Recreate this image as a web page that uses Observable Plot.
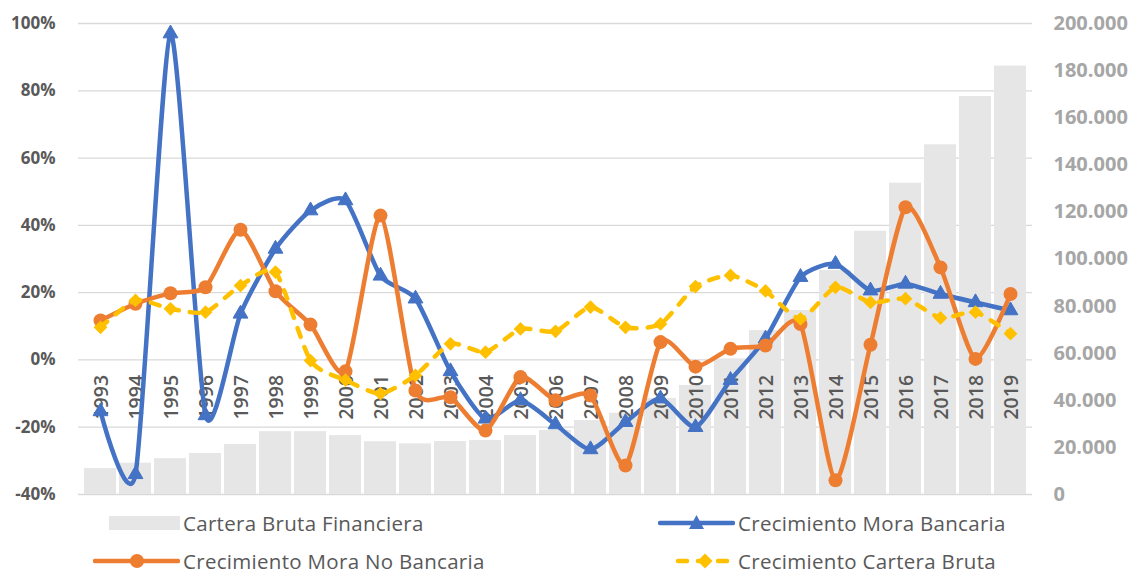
<!DOCTYPE html>
<html>
<head>
<meta charset="utf-8">
<script src="https://cdn.jsdelivr.net/npm/d3@7"></script>
<script src="https://cdn.jsdelivr.net/npm/@observablehq/plot@0.6"></script>
<style>
  html, body { margin: 0; padding: 0; background: #fff; }
  #wrap { position: relative; width: 1135px; height: 574px; font-family: "Open Sans", sans-serif; }
  #chart { position: absolute; left: 0; top: 0; }
  .leg { position: absolute; display: flex; align-items: center; color: #595959; font-size: 20.5px; line-height: 1; white-space: nowrap; letter-spacing: 0.3px; }
  .leg svg { display: block; }
</style>
</head>
<body>
<div id="wrap"><div id="chart"></div></div>
<script>
const years = [1993,1994,1995,1996,1997,1998,1999,2000,2001,2002,2003,2004,2005,2006,2007,2008,2009,2010,2011,2012,2013,2014,2015,2016,2017,2018,2019];
const carteraBrutaFinanciera = [11000,13300,15200,17400,21200,26700,26700,25000,22400,21500,22500,22900,25000,27200,31400,34500,40800,46300,57600,69600,78100,95100,111800,132200,148500,169000,181900];
const crecimientoMoraBancaria = [-15.3,-34,97,-16.5,13.7,33,44.4,47.4,25,18.2,-3.4,-17.5,-12,-19.2,-26.6,-18.5,-11.5,-20,-6,6.3,24.6,28.5,20.6,22.6,19.6,17.1,14.7];
const crecimientoMoraNoBancaria = [11.7,16.7,19.8,21.6,38.7,20.4,10.5,-3.4,42.9,-9.1,-11.1,-21,-5.1,-12,-10.6,-31.4,5.3,-2,3.3,4.3,10.7,-35.8,4.5,45.4,27.5,0.3,19.6];
const crecimientoCarteraBruta = [9.7,17.7,15.2,14.2,22.1,26.1,-0.2,-6,-10,-4.6,4.8,2.3,9.2,8.5,15.7,9.7,10.7,21.8,25.1,20.5,12.2,21.6,17.1,18.2,12.5,14.2,7.8];
const leftTicks = [-40,-20,0,20,40,60,80,100];
const rightTicks = [0,20000,40000,60000,80000,100000,120000,140000,160000,180000,200000];
const seriesNames = ["Cartera Bruta Financiera","Crecimiento Mora Bancaria","Crecimiento Mora No Bancaria","Crecimiento Cartera Bruta"];
const colors = {gray: "#E6E6E6", blue: "#4472C4", orange: "#ED7D31", yellow: "#FFC000"};

// right axis (0..200.000) mapped onto left (-40%..100%)
const rMin = 0, rMax = 200000, lMin = -40, lMax = 100;
const toLeft = v => lMin + (v - rMin) / (rMax - rMin) * (lMax - lMin);
const toRight = p => rMin + (p - lMin) / (lMax - lMin) * (rMax - rMin);
const fmtThousands = d3.formatLocale({decimal: ",", thousands: ".", grouping: [3], currency: ["", ""]}).format(",.0f");

const data = years.map((y, i) => ({
  year: y,
  cartera: carteraBrutaFinanciera[i],
  bancaria: crecimientoMoraBancaria[i],
  noBancaria: crecimientoMoraNoBancaria[i],
  bruta: crecimientoCarteraBruta[i]
}));

const curve = "cardinal", tension = 0.35;

const chart = Plot.plot({
  width: 1135,
  height: 515,
  marginLeft: 78,
  marginRight: 103,
  marginTop: 23,
  marginBottom: 21,
  style: {fontFamily: "'Open Sans', sans-serif", background: "transparent"},
  x: {type: "band", domain: years, paddingInner: 0.1, paddingOuter: 0.05, axis: null},
  y: {domain: [lMin, lMax], axis: null},
  marks: [
    Plot.gridY(leftTicks, {stroke: "#D9D9D9", strokeOpacity: 1, strokeWidth: 1.3}),
    Plot.barY(data, {x: "year", y1: d => lMin, y2: d => toLeft(d.cartera), fill: colors.gray}),
    Plot.axisY(leftTicks, {anchor: "left", tickSize: 0, tickPadding: 23, tickFormat: d => d + "%",
      fontSize: 17, fontWeight: "bold", fill: "#595959"}),
    Plot.axisY(rightTicks.map(toLeft), {anchor: "right", tickSize: 0, tickPadding: 21,
      tickFormat: d => fmtThousands(Math.round(toRight(d))), fontSize: 20, fontWeight: "bold", fill: "#A6A6A6",
      letterSpacing: 1}),
    Plot.text(data, {x: "year", y: d => 0, text: d => String(d.year), rotate: -90, textAnchor: "end",
      dy: 15, dx: 1, fontSize: 19.5, fontWeight: 600, fill: "#595959"}),
    Plot.line(data, {x: "year", y: "bancaria", stroke: colors.blue, strokeWidth: 4.5, curve, tension}),
    Plot.dot(data, {x: "year", y: "bancaria", symbol: "triangle", r: 5.5, fill: colors.blue, stroke: colors.blue, strokeWidth: 1}),
    Plot.line(data, {x: "year", y: "noBancaria", stroke: colors.orange, strokeWidth: 4.5, curve, tension}),
    Plot.dot(data, {x: "year", y: "noBancaria", symbol: "circle", r: 7, fill: colors.orange}),
    Plot.line(data, {x: "year", y: "bruta", stroke: colors.yellow, strokeWidth: 4.5, curve, tension,
      strokeDasharray: "9,11", strokeLinecap: "round"}),
    Plot.dot(data, {x: "year", y: "bruta", symbol: "diamond2", r: 6.2, fill: colors.yellow})
  ]
});
document.getElementById("chart").appendChild(chart);

// legend
const wrap = document.getElementById("wrap");
function legendItem(left, top, swatchW, swatchSvg, label) {
  const div = document.createElement("div");
  div.className = "leg";
  div.style.left = left + "px";
  div.style.top = (top - 11) + "px";
  div.style.height = "22px";
  div.innerHTML = `<svg width="${swatchW}" height="22">${swatchSvg}</svg><span style="margin-left:3px">${label}</span>`;
  wrap.appendChild(div);
}
legendItem(109, 523, 71, `<rect x="0" y="4" width="71" height="14" fill="${colors.gray}"/>`, seriesNames[0]);
legendItem(658, 523, 77, `<line x1="2" y1="11" x2="75" y2="11" stroke="${colors.blue}" stroke-width="4.5" stroke-linecap="round"/><path d="M38.5,3 L46,17 L31,17 Z" fill="${colors.blue}"/>`, seriesNames[1]);
legendItem(93, 561, 87, `<line x1="2" y1="11" x2="85" y2="11" stroke="${colors.orange}" stroke-width="4.5" stroke-linecap="round"/><circle cx="44" cy="11" r="7" fill="${colors.orange}"/>`, seriesNames[2]);
legendItem(675, 561, 60, `<line x1="3" y1="11" x2="57" y2="11" stroke="${colors.yellow}" stroke-width="4.5" stroke-linecap="round" stroke-dasharray="9,11"/><path d="M30,3.5 L37.5,11 L30,18.5 L22.5,11 Z" fill="${colors.yellow}"/>`, seriesNames[3]);
</script>
</body>
</html>
